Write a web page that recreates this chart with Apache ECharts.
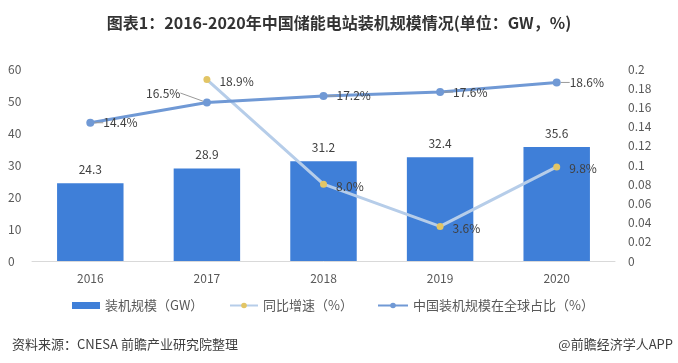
<!DOCTYPE html>
<html><head><meta charset="utf-8">
<script src="https://cdn.jsdelivr.net/npm/echarts@6/dist/echarts.min.js"></script>
<style>html,body{margin:0;padding:0;background:#fff}#c{width:678px;height:363px}</style>
</head><body><div id="c"></div>
<script>
var categories = ['2016','2017','2018','2019','2020'];
var capacity = [24.3, 28.9, 31.2, 32.4, 35.6];
var growth = [null, 0.189, 0.080, 0.036, 0.098];
var share = [0.144, 0.165, 0.172, 0.176, 0.186];
var leftTicks = [0, 60, 10];
var rightTicks = [0, 0.2, 0.02];
var seriesNames = ['装机规模（GW）', '同比增速（%）', '中国装机规模在全球占比（%）'];

var font = '"Noto Sans CJK SC", "Noto Sans", sans-serif';
var chart = echarts.init(document.getElementById('c'));
function pct(p){ return (p.value*100).toFixed(1) + '%'; }
var legendText = {fontSize: 13, color: '#595959', fontFamily: font};
chart.setOption({
  animation: false,
  textStyle: {fontFamily: font},
  title: [{
    text: '图表1：2016-2020年中国储能电站装机规模情况(单位：GW，%)',
    left: 'center', top: 10,
    textStyle: {fontSize: 16, fontWeight: 'bold', color: '#333', fontFamily: font}
  },{
    text: '资料来源：CNESA 前瞻产业研究院整理', left: 7, top: 333,
    textStyle: {fontSize: 13, fontWeight: 'normal', color: '#404040', fontFamily: font}
  },{
    text: '@前瞻经济学人APP', right: 0, top: 333,
    textStyle: {fontSize: 13, fontWeight: 'normal', color: '#404040', fontFamily: font}
  }],
  grid: {left: 32, right: 63, top: 69, bottom: 102},
  legend: [
    {top: 299, left: 72, padding: 0, itemWidth: 28, itemHeight: 7, textStyle: legendText,
     data: [{name: seriesNames[0], icon: 'rect'}]},
    {top: 299, left: 229, padding: 0, itemWidth: 28, itemHeight: 7, textStyle: legendText,
     data: [seriesNames[1]]},
    {top: 299, left: 377, padding: 0, itemWidth: 30, itemHeight: 7, textStyle: legendText,
     data: [seriesNames[2]]}
  ],
  xAxis: {
    type: 'category', data: categories,
    axisLine: {lineStyle: {color: '#d9d9d9'}}, axisTick: {show: false},
    axisLabel: {color: '#595959', fontSize: 12, margin: 11}
  },
  yAxis: [{
    type: 'value', min: leftTicks[0], max: leftTicks[1], interval: leftTicks[2],
    splitLine: {show: false}, axisLine: {show: false}, axisTick: {show: false},
    axisLabel: {color: '#595959', fontSize: 12, margin: 24, align: 'left'}
  },{
    type: 'value', min: rightTicks[0], max: rightTicks[1], interval: rightTicks[2],
    splitLine: {show: false}, axisLine: {show: false}, axisTick: {show: false},
    axisLabel: {color: '#595959', fontSize: 12, margin: 13,
      formatter: function(v){ return v === 0 ? '0' : String(parseFloat(v.toFixed(2))); }}
  }],
  series: [{
    name: seriesNames[0], type: 'bar', data: capacity, barWidth: '57%',
    itemStyle: {color: '#3f7fd8'},
    label: {show: true, position: 'top', distance: 8, color: '#404040', fontSize: 12}
  },{
    name: seriesNames[1], type: 'line', yAxisIndex: 1, data: growth,
    symbol: 'circle', symbolSize: 7,
    lineStyle: {color: '#b6cde9', width: 3},
    itemStyle: {color: '#e2c565'},
    label: {show: true, position: 'right', distance: 9, color: '#404040', fontSize: 12, formatter: pct, offset: [0, 2]}
  },{
    name: seriesNames[2], type: 'line', yAxisIndex: 1, data: share,
    symbol: 'circle', symbolSize: 8,
    lineStyle: {color: '#7099d5', width: 3},
    itemStyle: {color: '#7099d5'},
    label: {show: true, position: 'right', distance: 9, color: '#404040', fontSize: 12, formatter: pct, offset: [0, 3]},
    labelLine: {show: true, lineStyle: {color: '#999', width: 1}},
    labelLayout: function(params){
      if (params.dataIndex === 1) {
        return {x: 146, y: 93, align: 'left', verticalAlign: 'middle'};
      }
      return {};
    }
  }]
});
</script></body></html>
